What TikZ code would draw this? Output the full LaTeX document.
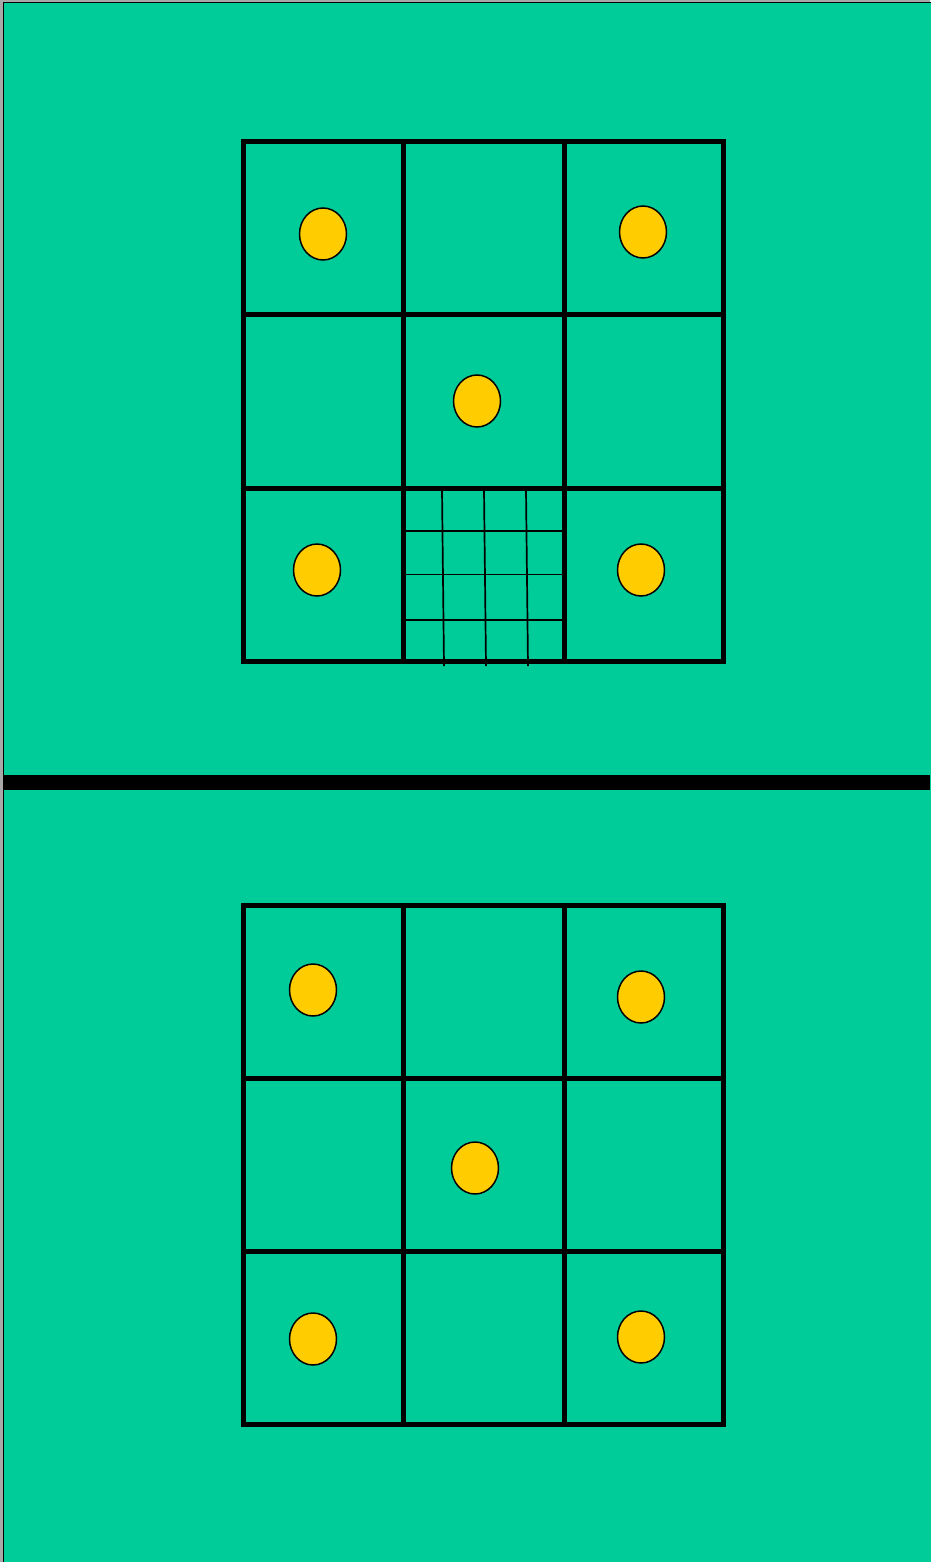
\documentclass[tikz,border=0pt]{standalone}
\begin{document}
\begin{tikzpicture}[x=1pt,y=-1pt,
  bg/.style={fill=green0,draw=black,line width=1.2pt},
  grid/.style={draw=black,line width=5pt,line cap=rect},
  fine/.style={draw=black,line width=1.7pt},
  dot/.style={fill=yellow0,draw=black,line width=1.5pt}]
\definecolor{green0}{HTML}{00CC99}
\definecolor{yellow0}{HTML}{FFCC00}
\definecolor{edgegray}{HTML}{A8A8A8}
\useasboundingbox (0,0) rectangle (930,1562);
\fill[edgegray] (0,0) rectangle (930,1562);
\path[bg] (3.5,2.5) rectangle (940,1575);
\fill[black] (3,775) rectangle (930,790);
% top grid fine lines
\foreach \y in {531,574.5,620} \draw[fine] (403,\y) -- (562,\y);
\draw[fine] (442,490) -- (444,666);
\draw[fine] (484,490) -- (486,666);
\draw[fine] (526,490) -- (528,666);
% top grid
\foreach \x in {243,403.5,564,723.5} \draw[grid] (\x,142) -- (\x,661);
\foreach \y in {142,314.5,488,661} \draw[grid] (243,\y) -- (723.5,\y);
% bottom grid
\foreach \x in {243,403.5,564,723.5} \draw[grid] (\x,905) -- (\x,1424);
\foreach \y in {905,1078,1251,1424} \draw[grid] (243,\y) -- (723.5,\y);
% dots
\foreach \p in {(323,234),(643,232),(477,401),(317,570),(641,570),
                (313,990),(641,997),(475,1168),(313,1339),(641,1337)}
  \path[dot] \p ellipse [x radius=23.5, y radius=26];
\end{tikzpicture}
\end{document}
